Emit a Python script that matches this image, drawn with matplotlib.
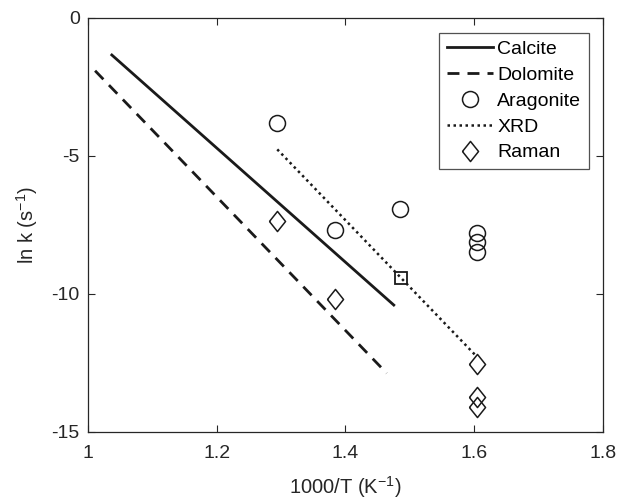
import numpy as np
import matplotlib
matplotlib.use("Agg")
import matplotlib.pyplot as plt

plt.rcParams['font.family'] = ['Liberation Sans', 'DejaVu Sans']
plt.rcParams['mathtext.default'] = 'regular'
plt.rcParams['axes.unicode_minus'] = False

# fitted lines (1000/T, ln k)
calcite_x = [1.037, 1.475]
calcite_y = [-1.34, -10.40]
dolomite_x = [1.011, 1.464]
dolomite_y = [-1.91, -12.87]
xrd_x = [1.294, 1.604]
xrd_y = [-4.76, -12.27]

# measured points
aragonite_x = [1.293, 1.383, 1.485, 1.605, 1.605, 1.605]
aragonite_y = [-3.82, -7.68, -6.92, -7.80, -8.13, -8.47]
raman_x = [1.294, 1.384, 1.605, 1.605, 1.605]
raman_y = [-7.34, -10.19, -12.55, -13.72, -14.08]
square_x = [1.486]
square_y = [-9.41]

diamond = [(-0.8, 0), (0, 1), (0.8, 0), (0, -1), (-0.8, 0)]
ink = '#1a1a1a'

fig = plt.figure(figsize=(6.19, 4.99), dpi=100)
ax = fig.add_axes([88 / 619, 1 - 432 / 499, 515 / 619, 414 / 499])

ax.plot(calcite_x, calcite_y, color=ink, lw=2.0, label='Calcite')
ax.plot(dolomite_x, dolomite_y, color=ink, lw=2.0, dashes=(4.3, 2.9), label='Dolomite')
ax.plot(aragonite_x, aragonite_y, ls='none', marker='o', ms=11.5, mfc='none',
        mec=ink, mew=1.1, label='Aragonite')
ax.plot(xrd_x, xrd_y, color=ink, lw=1.8, ls=(0, (1, 1.4)), label='XRD')
ax.plot(raman_x, raman_y, ls='none', marker=diamond, ms=14.5, mfc='none',
        mec=ink, mew=1.1, label='Raman')
ax.plot(square_x, square_y, ls='none', marker='s', ms=9, mfc='none', mec=ink, mew=1.3)

ax.set_xlim(1, 1.8)
ax.set_ylim(-15, 0)
ax.set_xticks([1, 1.2, 1.4, 1.6, 1.8])
ax.set_xticklabels(['1', '1.2', '1.4', '1.6', '1.8'])
ax.set_yticks([-15, -10, -5, 0])
ax.tick_params(direction='in', top=True, right=True, length=5, width=0.8,
               labelsize=14, colors='#262626', pad=6)
ax.tick_params(axis='x', pad=9)
for s in ax.spines.values():
    s.set_color('#262626')
    s.set_linewidth(0.9)

ax.set_xlabel('1000/T (K$^{-1}$)', fontsize=14.5, color='#262626', labelpad=9)
ax.set_ylabel('ln k (s$^{-1}$)', fontsize=14.5, color='#262626', labelpad=8)

leg = ax.legend(loc='upper right', bbox_to_anchor=(0.973, 0.964), fontsize=14,
                frameon=True, fancybox=False, edgecolor='#262626', handlelength=2.4,
                handletextpad=0.2, labelspacing=0.42, borderpad=0.4, borderaxespad=0)
leg.get_frame().set_linewidth(0.9)

fig.savefig('out.png', dpi=100)
